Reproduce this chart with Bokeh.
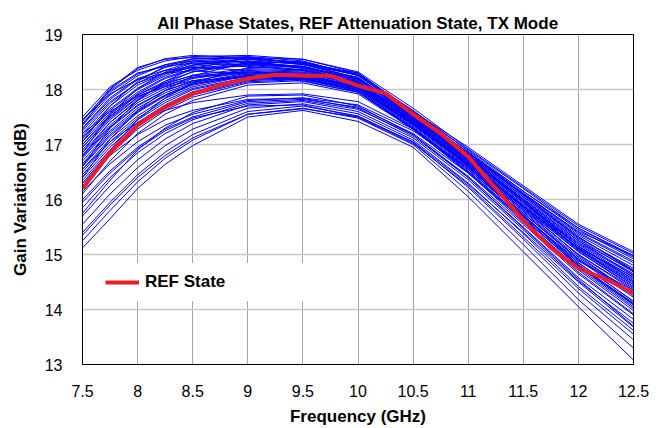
from bokeh.plotting import figure
from bokeh.models import Range1d, FixedTicker, Legend, LegendItem
from bokeh.embed import file_html
from bokeh.resources import INLINE

# ---------------- data ----------------
freq = [7.5, 7.75, 8.0, 8.25, 8.5, 9.0, 9.5, 10.0, 10.5, 11.0, 11.5, 12.0, 12.5]

# upper group of phase states
state_01 = [17.50, 18.05, 18.35, 18.52, 18.60, 18.62, 18.55, 18.32, 17.66, 16.92, 16.22, 15.52, 15.02]
state_02 = [17.42, 18.02, 18.40, 18.55, 18.58, 18.55, 18.50, 18.28, 17.62, 16.88, 16.15, 15.45, 14.92]
state_03 = [17.35, 17.90, 18.25, 18.45, 18.56, 18.60, 18.52, 18.25, 17.58, 16.85, 16.10, 15.38, 14.85]
state_04 = [17.28, 17.82, 18.18, 18.40, 18.52, 18.58, 18.48, 18.30, 17.60, 16.90, 16.20, 15.48, 14.95]
state_05 = [17.20, 17.75, 18.12, 18.35, 18.50, 18.55, 18.45, 18.22, 17.55, 16.80, 16.05, 15.30, 14.75]
state_06 = [17.15, 17.70, 18.08, 18.30, 18.45, 18.52, 18.46, 18.26, 17.56, 16.82, 16.08, 15.35, 14.80]
state_07 = [17.10, 17.62, 18.00, 18.25, 18.42, 18.50, 18.42, 18.20, 17.52, 16.78, 16.00, 15.25, 14.70]
state_08 = [17.05, 17.58, 17.95, 18.22, 18.38, 18.48, 18.40, 18.18, 17.50, 16.75, 15.98, 15.22, 14.65]
state_09 = [17.00, 17.55, 17.92, 18.20, 18.36, 18.45, 18.40, 18.22, 17.54, 16.86, 16.12, 15.40, 14.88]
state_10 = [16.95, 17.50, 17.90, 18.15, 18.32, 18.46, 18.42, 18.15, 17.48, 16.72, 15.95, 15.18, 14.58]
state_11 = [17.38, 17.95, 18.28, 18.45, 18.52, 18.50, 18.38, 18.12, 17.45, 16.70, 15.92, 15.15, 14.55]
state_12 = [17.45, 17.98, 18.30, 18.42, 18.48, 18.44, 18.36, 18.10, 17.42, 16.68, 15.88, 15.10, 14.48]
state_13 = [17.25, 17.78, 18.12, 18.30, 18.40, 18.42, 18.35, 18.14, 17.46, 16.74, 15.96, 15.20, 14.62]
state_14 = [17.12, 17.65, 18.02, 18.28, 18.44, 18.56, 18.50, 18.27, 17.60, 16.95, 16.25, 15.55, 15.05]
# middle group
state_15 = [16.90, 17.45, 17.85, 18.10, 18.26, 18.38, 18.36, 18.14, 17.50, 16.80, 16.05, 15.32, 14.72]
state_16 = [16.85, 17.40, 17.80, 18.06, 18.22, 18.36, 18.34, 18.10, 17.44, 16.70, 15.90, 15.12, 14.50]
state_17 = [16.80, 17.35, 17.76, 18.02, 18.20, 18.34, 18.32, 18.12, 17.48, 16.78, 16.02, 15.28, 14.68]
state_18 = [16.75, 17.30, 17.70, 17.98, 18.16, 18.32, 18.30, 18.08, 17.42, 16.68, 15.88, 15.08, 14.45]
state_19 = [16.70, 17.25, 17.66, 17.94, 18.12, 18.30, 18.30, 18.10, 17.46, 16.76, 16.00, 15.25, 14.62]
state_20 = [16.65, 17.22, 17.62, 17.90, 18.10, 18.28, 18.28, 18.06, 17.40, 16.65, 15.82, 15.00, 14.38]
state_21 = [16.60, 17.15, 17.58, 17.88, 18.08, 18.26, 18.26, 18.04, 17.38, 16.62, 15.80, 14.95, 14.30]
state_22 = [16.55, 17.10, 17.52, 17.84, 18.05, 18.25, 18.27, 18.06, 17.44, 16.72, 15.95, 15.15, 14.52]
state_23 = [16.50, 17.05, 17.48, 17.80, 18.02, 18.22, 18.24, 18.02, 17.36, 16.60, 15.75, 14.90, 14.22]
state_24 = [16.45, 17.00, 17.45, 17.76, 18.00, 18.20, 18.22, 18.04, 17.40, 16.66, 15.85, 15.05, 14.40]
state_25 = [16.40, 16.95, 17.40, 17.72, 17.96, 18.18, 18.20, 18.00, 17.34, 16.58, 15.72, 14.85, 14.15]
state_26 = [16.35, 16.90, 17.36, 17.68, 17.92, 18.16, 18.20, 18.02, 17.38, 16.64, 15.82, 15.00, 14.35]
state_27 = [16.95, 17.48, 17.86, 18.08, 18.22, 18.30, 18.25, 18.02, 17.36, 16.62, 15.78, 14.92, 14.25]
state_28 = [17.00, 17.52, 17.90, 18.12, 18.25, 18.32, 18.26, 18.05, 17.40, 16.66, 15.86, 15.06, 14.42]
state_29 = [16.62, 17.18, 17.60, 17.90, 18.10, 18.24, 18.22, 17.98, 17.32, 16.55, 15.70, 14.82, 14.10]
state_30 = [16.30, 16.88, 17.34, 17.66, 17.90, 18.14, 18.18, 17.98, 17.30, 16.52, 15.66, 14.78, 14.05]
state_31 = [16.78, 17.32, 17.72, 17.98, 18.14, 18.26, 18.20, 17.96, 17.28, 16.50, 15.62, 14.72, 13.98]
state_32 = [16.25, 16.82, 17.28, 17.62, 17.86, 18.12, 18.16, 17.95, 17.28, 16.50, 15.65, 14.80, 14.08]
# lower group
state_33 = [16.15, 16.65, 17.05, 17.35, 17.55, 17.80, 17.85, 17.72, 17.25, 16.55, 15.70, 14.85, 14.15]
state_34 = [16.00, 16.52, 16.95, 17.28, 17.50, 17.78, 17.82, 17.68, 17.20, 16.48, 15.62, 14.75, 14.02]
state_35 = [15.85, 16.40, 16.85, 17.20, 17.45, 17.75, 17.80, 17.64, 17.18, 16.42, 15.55, 14.65, 13.90]
state_36 = [15.70, 16.25, 16.72, 17.10, 17.38, 17.72, 17.78, 17.60, 17.12, 16.36, 15.45, 14.52, 13.75]
state_37 = [15.55, 16.10, 16.58, 16.98, 17.28, 17.66, 17.74, 17.56, 17.08, 16.30, 15.38, 14.42, 13.62]
state_38 = [15.40, 15.95, 16.45, 16.86, 17.18, 17.60, 17.70, 17.52, 17.04, 16.22, 15.28, 14.30, 13.45]
state_39 = [15.25, 15.80, 16.32, 16.75, 17.08, 17.55, 17.66, 17.48, 17.00, 16.15, 15.18, 14.18, 13.30]
state_40 = [15.12, 15.65, 16.20, 16.64, 16.98, 17.50, 17.62, 17.42, 16.95, 16.05, 15.05, 14.05, 13.08]
state_41 = [16.30, 16.80, 17.18, 17.45, 17.62, 17.82, 17.84, 17.66, 17.15, 16.40, 15.50, 14.58, 13.82]
state_42 = [15.95, 16.48, 16.92, 17.25, 17.48, 17.70, 17.72, 17.50, 17.02, 16.25, 15.32, 14.38, 13.55]
# crossing states
state_43 = [17.30, 17.85, 18.20, 18.35, 18.40, 18.35, 18.22, 18.05, 17.50, 16.82, 16.10, 15.42, 14.98]
state_44 = [16.60, 17.30, 17.80, 18.15, 18.38, 18.58, 18.55, 18.30, 17.58, 16.80, 15.98, 15.15, 14.55]
state_45 = [16.40, 17.10, 17.62, 17.98, 18.25, 18.50, 18.48, 18.20, 17.50, 16.72, 15.85, 14.98, 14.28]
state_46 = [17.45, 17.92, 18.18, 18.30, 18.34, 18.28, 18.15, 17.95, 17.30, 16.55, 15.70, 14.88, 14.35]
state_47 = [16.80, 17.40, 17.82, 18.12, 18.32, 18.48, 18.42, 18.16, 17.44, 16.62, 15.72, 14.80, 14.12]
state_48 = [17.20, 17.60, 17.88, 18.05, 18.16, 18.22, 18.18, 18.00, 17.36, 16.64, 15.88, 15.12, 14.60]
state_49 = [16.20, 16.90, 17.45, 17.85, 18.12, 18.40, 18.42, 18.18, 17.52, 16.78, 15.95, 15.10, 14.45]
state_50 = [16.55, 17.05, 17.40, 17.62, 17.76, 17.90, 17.92, 17.78, 17.28, 16.58, 15.75, 14.92, 14.28]
state_51 = [17.05, 17.70, 18.15, 18.42, 18.55, 18.58, 18.46, 18.20, 17.52, 16.85, 16.15, 15.48, 14.98]
state_52 = [16.10, 16.70, 17.20, 17.55, 17.80, 18.08, 18.12, 17.92, 17.28, 16.48, 15.58, 14.68, 13.92]
state_53 = [15.75, 16.35, 16.90, 17.30, 17.58, 17.88, 17.90, 17.70, 17.18, 16.40, 15.48, 14.55, 13.70]
state_54 = [16.85, 17.55, 18.02, 18.32, 18.48, 18.52, 18.40, 18.12, 17.40, 16.60, 15.68, 14.78, 14.10]
state_55 = [15.35, 15.90, 16.40, 16.80, 17.12, 17.55, 17.65, 17.50, 17.05, 16.28, 15.40, 14.50, 13.68]
state_56 = [17.35, 18.00, 18.38, 18.56, 18.62, 18.58, 18.48, 18.26, 17.56, 16.84, 16.08, 15.32, 14.70]

ref_freq = [7.5, 7.75, 8.0, 8.25, 8.5, 8.75, 9.0, 9.25, 9.5, 9.75, 10.0,
            10.25, 10.5, 10.75, 11.0, 11.25, 11.5, 11.75, 12.0, 12.25, 12.5]
ref_gain = [16.20, 16.85, 17.35, 17.68, 17.92, 18.08, 18.20, 18.27, 18.25, 18.25, 18.07,
            17.93, 17.55, 17.20, 16.78, 16.20, 15.62, 15.12, 14.75, 14.55, 14.30]

x_ticks = [7.5, 8.0, 8.5, 9.0, 9.5, 10.0, 10.5, 11.0, 11.5, 12.0, 12.5]
x_tick_labels = ["7.5", "8", "8.5", "9", "9.5", "10", "10.5", "11", "11.5", "12", "12.5"]
y_ticks = [13, 14, 15, 16, 17, 18, 19]

states = [state_01, state_02, state_03, state_04, state_05, state_06, state_07,
          state_08, state_09, state_10, state_11, state_12, state_13, state_14,
          state_15, state_16, state_17, state_18, state_19, state_20, state_21,
          state_22, state_23, state_24, state_25, state_26, state_27, state_28,
          state_29, state_30, state_31, state_32, state_33, state_34, state_35,
          state_36, state_37, state_38, state_39, state_40, state_41, state_42,
          state_43, state_44, state_45, state_46, state_47, state_48, state_49,
          state_50, state_51, state_52, state_53, state_54, state_55, state_56]

# ---------------- figure ----------------
FONT = "Liberation Sans"
p = figure(width=664, height=428, output_backend="svg", toolbar_location=None,
           x_range=Range1d(7.5, 12.5), y_range=Range1d(13, 19),
           min_border_left=82, min_border_right=31, min_border_top=34, min_border_bottom=64,
           title="All Phase States, REF Attenuation State, TX Mode")
p.title.align = "center"
p.title.text_font = FONT
p.title.text_font_size = "17px"
p.title.text_font_style = "bold"
p.title.text_color = "black"
p.title.standoff = 4

p.outline_line_color = "black"
p.outline_line_width = 1
p.background_fill_color = "white"
p.border_fill_color = "white"

p.xaxis.ticker = FixedTicker(ticks=x_ticks)
p.xaxis.major_label_overrides = {t: l for t, l in zip(x_ticks, x_tick_labels)}
p.yaxis.ticker = FixedTicker(ticks=y_ticks)
p.xgrid.ticker = FixedTicker(ticks=x_ticks)
p.ygrid.ticker = FixedTicker(ticks=y_ticks)

for ax in (p.xaxis[0], p.yaxis[0]):
    ax.major_tick_in = 0
    ax.major_tick_out = 0
    ax.minor_tick_line_color = None
    ax.axis_line_color = "black"
    ax.major_label_text_font = FONT
    ax.major_label_text_font_size = "16px"
    ax.major_label_text_color = "black"
    ax.axis_label_text_font = FONT
    ax.axis_label_text_font_size = "17px"
    ax.axis_label_text_font_style = "bold"
    ax.axis_label_text_color = "black"

p.xaxis.axis_label = "Frequency (GHz)"
p.yaxis.axis_label = "Gain Variation (dB)"
p.xaxis.major_label_standoff = 20
p.xaxis.axis_label_standoff = 7
p.yaxis.major_label_standoff = 20
p.yaxis.axis_label_standoff = 12

p.xgrid.grid_line_color = "#a6a6a6"
p.xgrid.grid_line_width = 1
p.ygrid.grid_line_color = "#c8c8c8"
p.ygrid.grid_line_width = 1.5

p.multi_line(xs=[freq] * len(states), ys=states, line_color="#0000ff", line_width=1)
ref_r = p.line(ref_freq, ref_gain, line_color="#ee1c25", line_width=4)

legend = Legend(items=[LegendItem(label="REF State", renderers=[ref_r])],
                location=(23, 63), padding=16, glyph_width=34, glyph_height=38,
                label_height=38, label_standoff=6, label_width=160, margin=0,
                label_text_font=FONT, label_text_font_size="17px",
                label_text_font_style="bold", label_text_color="black",
                background_fill_color="white", background_fill_alpha=1.0,
                border_line_color=None)
p.add_layout(legend)

open("out.html", "w").write(file_html(p, INLINE))
